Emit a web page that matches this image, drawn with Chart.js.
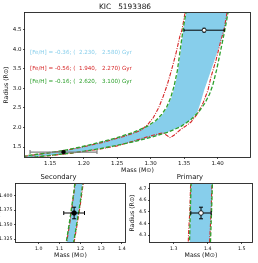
<!DOCTYPE html>
<html>
<head>
<meta charset="utf-8">
<title>KIC 5193386</title>
<script src="https://cdn.jsdelivr.net/npm/chart.js@4.4.1/dist/chart.umd.min.js"></script>
<style>
  html, body { margin: 0; padding: 0; background: #fff; }
  body { width: 258px; height: 263px; position: relative; overflow: hidden; }
  canvas { position: absolute; }
</style>
</head>
<body>
<canvas id="main" width="258" height="174" style="left:0;top:0"></canvas>
<canvas id="secondary" width="138" height="93" style="left:-8px;top:170px"></canvas>
<canvas id="primary" width="130" height="93" style="left:128px;top:170px"></canvas>
<script>
Chart.defaults.font.family = "'DejaVu Sans', sans-serif";
Chart.defaults.color = '#111';

const SKY = '#87ceeb', RED = '#d62728', GREEN = '#2ca02c';

// stars: [secondary, primary]
const starMass = [1.17, 1.38];
const starMassErr = [0.05, 0.03];
const starRadius = [1.37, 4.49];
const starRadiusErr = [0.01, 0.05];

// isochrone sets (label text)
const isoFeH = [-0.36, -0.56, -0.16];
const isoAgeLow = [2.230, 1.940, 2.620];
const isoAgeHigh = [2.580, 2.270, 3.100];

// [Fe/H] = -0.36 (filled band)
const blueOldMass = [1.100, 1.1127, 1.130, 1.150, 1.170, 1.200, 1.225, 1.250, 1.275, 1.296, 1.309, 1.318, 1.325, 1.331, 1.336, 1.341, 1.345, 1.349, 1.3535, 1.356];
const blueOldRadius = [1.238, 1.268, 1.312, 1.357, 1.407, 1.515, 1.620, 1.735, 1.875, 2.025, 2.175, 2.335, 2.515, 2.755, 3.045, 3.445, 3.945, 4.495, 4.945, 5.200];
const blueYoungMass = [1.100, 1.1127, 1.130, 1.150, 1.175, 1.200, 1.225, 1.250, 1.275, 1.300, 1.325, 1.345, 1.360, 1.370, 1.375, 1.380, 1.386, 1.394, 1.403, 1.4105, 1.4155, 1.419];
const blueYoungRadius = [1.198, 1.223, 1.253, 1.288, 1.338, 1.393, 1.463, 1.548, 1.638, 1.748, 1.878, 2.023, 2.200, 2.400, 2.650, 2.950, 3.250, 3.650, 4.100, 4.500, 4.940, 5.200];

// [Fe/H] = -0.56 (red dash-dot)
const redOldMass = [1.100, 1.1127, 1.130, 1.150, 1.175, 1.200, 1.230, 1.260, 1.285, 1.296, 1.304, 1.312, 1.319, 1.325, 1.331, 1.338, 1.344, 1.347, 1.3515, 1.354];
const redOldRadius = [1.235, 1.265, 1.310, 1.355, 1.420, 1.505, 1.625, 1.770, 1.920, 2.080, 2.250, 2.500, 2.800, 3.100, 3.450, 3.900, 4.350, 4.500, 4.940, 5.200];
const redYoungMass = [1.100, 1.1127, 1.130, 1.150, 1.175, 1.200, 1.225, 1.250, 1.272, 1.295, 1.310, 1.319, 1.324, 1.329, 1.335, 1.344, 1.352, 1.3604, 1.370, 1.3784, 1.3858, 1.3903, 1.3978, 1.4052, 1.4097, 1.4142, 1.417];
const redYoungRadius = [1.190, 1.215, 1.245, 1.280, 1.330, 1.385, 1.450, 1.530, 1.640, 1.760, 1.830, 1.867, 1.800, 1.740, 1.800, 1.936, 2.030, 2.141, 2.350, 2.628, 2.960, 3.295, 3.730, 4.240, 4.500, 4.936, 5.200];

// [Fe/H] = -0.16 (green dashed)
const greenOldMass = [1.100, 1.1127, 1.130, 1.150, 1.170, 1.200, 1.225, 1.250, 1.275, 1.295, 1.308, 1.317, 1.324, 1.330, 1.335, 1.340, 1.344, 1.3485, 1.353, 1.356];
const greenOldRadius = [1.240, 1.270, 1.315, 1.360, 1.410, 1.520, 1.625, 1.740, 1.880, 2.030, 2.180, 2.340, 2.520, 2.760, 3.050, 3.450, 3.950, 4.500, 4.950, 5.200];
const greenYoungMass = [1.100, 1.1127, 1.130, 1.150, 1.175, 1.200, 1.225, 1.250, 1.275, 1.300, 1.325, 1.345, 1.360, 1.372, 1.381, 1.388, 1.393, 1.399, 1.405, 1.411, 1.4157, 1.419];
const greenYoungRadius = [1.195, 1.220, 1.250, 1.285, 1.335, 1.390, 1.460, 1.545, 1.635, 1.745, 1.875, 2.020, 2.200, 2.400, 2.620, 2.850, 3.090, 3.500, 4.000, 4.500, 4.940, 5.200];

// axis ticks
const mainMassTicks = [1.15, 1.20, 1.25, 1.30, 1.35, 1.40];
const mainRadiusTicks = [1.5, 2.0, 2.5, 3.0, 3.5, 4.0, 4.5];
const secMassTicks = [1.0, 1.1, 1.2, 1.3, 1.4];
const secRadiusTicks = [1.325, 1.350, 1.375, 1.400];
const priMassTicks = [1.3, 1.4, 1.5];
const priRadiusTicks = [4.3, 4.4, 4.5, 4.6, 4.7];

const xy = (ms, rs) => ms.map((m, i) => ({ x: m, y: rs[i] }));

function isoLine(ms, rs, color, dash, lw) {
  return { data: xy(ms, rs), showLine: true, borderColor: color, borderWidth: lw,
           borderDash: dash, pointRadius: 0, fill: false, tension: 0 };
}

function isochrones(lw) {
  const band = xy(blueOldMass, blueOldRadius).concat(xy(blueYoungMass, blueYoungRadius).reverse());
  band.push(band[0]);
  return [
    isoLine(greenOldMass, greenOldRadius, GREEN, [4, 2], lw),
    isoLine(greenYoungMass, greenYoungRadius, GREEN, [4, 2], lw),
    isoLine(redOldMass, redOldRadius, RED, [4, 1.3, 1, 1.3], lw * 0.85),
    isoLine(redYoungMass, redYoungRadius, RED, [4, 1.3, 1, 1.3], lw * 0.85),
    { data: band, showLine: true, fill: 'shape', backgroundColor: SKY,
      borderColor: 'rgba(0,0,0,0)', borderWidth: 0, pointRadius: 0 }
  ];
}

function star(i, barColor, markerFill, capR, lw, markerR) {
  const m = starMass[i], r = starRadius[i], dm = starMassErr[i], dr = starRadiusErr[i];
  const bar = (pts, rot) => ({ data: pts, showLine: true, borderColor: barColor, borderWidth: lw,
    pointStyle: 'line', pointRotation: rot, pointRadius: capR,
    pointBorderColor: barColor, pointBorderWidth: lw });
  return [
    { data: [{ x: m, y: r }], pointStyle: 'circle', pointRadius: markerR,
      pointBackgroundColor: markerFill, pointBorderColor: '#000', pointBorderWidth: 0.8 },
    bar([{ x: m - dm, y: r }, { x: m + dm, y: r }], 90),
    bar([{ x: m, y: r - dr }, { x: m, y: r + dr }], 0)
  ];
}

function axis(min, max, ticks, digits, title, tickSize, fitSize, vertical, titlePad) {
  return {
    type: 'linear', min: min, max: max,
    afterBuildTicks: s => { s.ticks = ticks.map(v => ({ value: v })); },
    afterFit: s => { if (vertical) s.width = fitSize; else s.height = fitSize; },
    grid: { display: true, drawOnChartArea: false, drawTicks: true, tickLength: 2,
            tickWidth: 0.8, tickColor: '#222' },
    border: { display: false },
    ticks: { font: { size: tickSize }, color: '#111', padding: 1.5, maxRotation: 0,
             autoSkip: false, callback: v => v.toFixed(digits) },
    title: { display: true, text: title, font: { size: 6.2 }, color: '#111', padding: titlePad }
  };
}

const frame = {
  id: 'frame',
  afterDatasetsDraw(chart) {
    const a = chart.chartArea, ctx = chart.ctx;
    ctx.save();
    ctx.strokeStyle = '#222';
    ctx.lineWidth = 0.9;
    ctx.strokeRect(Math.round(a.left) - 0.5, Math.round(a.top) - 0.5,
                   Math.round(a.right - a.left) + 1, Math.round(a.bottom - a.top) + 1);
    ctx.restore();
  }
};

// isochrone labels, axes-fraction positions
const noteX = 0.022;
const noteY = [0.722, 0.611, 0.521];
const noteColors = [SKY, RED, GREEN];
const notes = {
  id: 'notes',
  afterDatasetsDraw(chart) {
    const a = chart.chartArea, ctx = chart.ctx;
    const pad = v => v.toFixed(3).padStart(7);
    ctx.save();
    ctx.font = "5.6px 'DejaVu Sans'";
    ctx.textBaseline = 'middle';
    isoFeH.forEach((f, i) => {
      ctx.fillStyle = noteColors[i];
      const txt = '[Fe/H] = ' + f.toFixed(2) + '; (' + pad(isoAgeLow[i]) + ', ' + pad(isoAgeHigh[i]) + ') Gyr';
      ctx.fillText(txt, a.left + noteX * (a.right - a.left), a.bottom - noteY[i] * (a.bottom - a.top));
    });
    ctx.restore();
  }
};

function titleOpts(text, size, top, bottom) {
  return { display: true, text: text, color: '#111',
           font: { size: size, weight: 'normal', lineHeight: 1.2 },
           padding: { top: top, bottom: bottom } };
}

function makeChart(id, datasets, scales, title, padding, extra) {
  return new Chart(document.getElementById(id), {
    type: 'scatter',
    data: { datasets: datasets },
    options: {
      responsive: false, animation: false, events: [],
      layout: { padding: padding },
      scales: scales,
      plugins: { legend: { display: false }, tooltip: { enabled: false }, title: title }
    },
    plugins: [frame].concat(extra || [])
  });
}

// main panel
makeChart('main',
  star(1, '#000', '#fff', 1.5, 1, 2).concat(star(0, '#808080', '#000', 2, 1.2, 1.8), isochrones(1.3)),
  {
    x: axis(1.1125, 1.4485, mainMassTicks, 2, 'Mass (M\u2299)', 5.5, 17, false, { top: 0, bottom: 0 }),
    y: axis(1.245, 4.93, mainRadiusTicks, 1, 'Radius (R\u2299)', 5.5, 25, true, { top: 3, bottom: 0 })
  },
  titleOpts('KIC   5193386', 7.4, 2.2, 1.92),
  { left: 0, right: 8, top: 0, bottom: 0 },
  [notes]);

// secondary zoom
makeChart('secondary',
  star(0, '#000', '#000', 2, 1, 2.3).concat(isochrones(1.3)),
  {
    x: axis(0.89, 1.415, secMassTicks, 1, 'Mass (M\u2299)', 4.7, 17, false, { top: 0, bottom: 0 }),
    y: axis(1.32, 1.42, secRadiusTicks, 3, 'Radius (R\u2299)', 4.7, 24, true, { top: 2.5, bottom: 0 })
  },
  titleOpts('Secondary', 6.8, 3.5, 2.34),
  { left: 0, right: 5, top: 0, bottom: 4 });

// primary zoom
makeChart('primary',
  star(1, '#000', '#fff', 2, 1, 2.3).concat(isochrones(1.3)),
  {
    x: axis(1.23, 1.53, priMassTicks, 1, 'Mass (M\u2299)', 4.7, 17, false, { top: 0, bottom: 0 }),
    y: axis(4.24, 4.74, priRadiusTicks, 1, 'Radius (R\u2299)', 4.7, 22, true, { top: 0.3, bottom: 0 })
  },
  titleOpts('Primary', 6.8, 3.5, 2.34),
  { left: 0, right: 6, top: 0, bottom: 4 });
</script>
</body>
</html>
